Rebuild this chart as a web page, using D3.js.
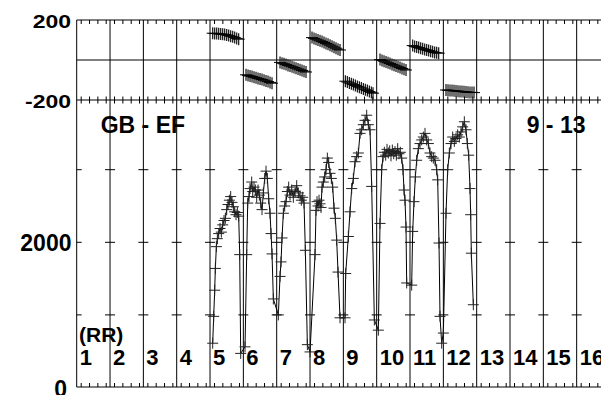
<!DOCTYPE html>
<html>
<head>
<meta charset="utf-8">
<script src="https://cdn.jsdelivr.net/npm/d3@7"></script>
<style>
    body { margin: 0; background: #fff; }
    svg text { font-family: "Liberation Sans", Arial, sans-serif; font-weight: bold; fill: #000; }
</style>
</head>
<body>
<svg id="chart"></svg>
<script>

// hour labels along the bottom panel
var hourLabels = ["1", "2", "3", "4", "5", "6", "7", "8", "9", "10", "11", "12", "13", "14", "15", "16"];
// amplitude tick crosses and axis labels
var ampTickValues = [1000, 2000, 3000];
var ampAxisLabels = [{v: 0, text: "0"}, {v: 2000, text: "2000"}];
var phaseAxisLabels = [{v: 200, text: "200"}, {v: -200, text: "-200"}];
var phaseErr = 30;

// amplitude, one list per scan (hours / amp)
var ampTimes = [
    [5.08, 5.11, 5.14, 5.16, 5.19, 5.22, 5.26, 5.30, 5.34, 5.38, 5.42, 5.46, 5.50, 5.54, 5.58, 5.62, 5.66, 5.70, 5.74, 5.78, 5.82, 5.86, 5.89, 5.92],
    [6.05, 6.10, 6.13, 6.17, 6.20, 6.25, 6.28, 6.32, 6.36, 6.40, 6.44, 6.48, 6.52, 6.56, 6.60, 6.64, 6.68, 6.72, 6.76, 6.80, 6.83, 6.86, 6.90],
    [7.05, 7.10, 7.13, 7.16, 7.20, 7.24, 7.28, 7.32, 7.36, 7.40, 7.45, 7.50, 7.55, 7.60, 7.65, 7.70, 7.74, 7.78, 7.82, 7.86, 7.92],
    [8.00, 8.15, 8.18, 8.21, 8.24, 8.27, 8.30, 8.33, 8.36, 8.40, 8.44, 8.48, 8.52, 8.56, 8.60, 8.64, 8.68, 8.72, 8.76, 8.80, 8.84, 8.90],
    [9.05, 9.07, 9.15, 9.20, 9.25, 9.30, 9.35, 9.40, 9.45, 9.50, 9.55, 9.60, 9.65, 9.70, 9.75, 9.80, 9.85, 9.93],
    [10.05, 10.10, 10.15, 10.19, 10.23, 10.27, 10.31, 10.35, 10.39, 10.43, 10.47, 10.51, 10.55, 10.59, 10.63, 10.67, 10.71, 10.75, 10.79, 10.82, 10.85, 10.88, 10.90],
    [11.05, 11.08, 11.12, 11.16, 11.20, 11.25, 11.30, 11.35, 11.40, 11.45, 11.50, 11.55, 11.60, 11.65, 11.70, 11.75, 11.80, 11.83, 11.87, 11.90, 11.95],
    [12.00, 12.08, 12.13, 12.18, 12.23, 12.28, 12.33, 12.38, 12.43, 12.48, 12.53, 12.58, 12.63, 12.68, 12.72, 12.76, 12.80, 12.82, 12.84, 12.90]
];
var ampValues = [
    [610, 980, 1340, 1640, 1940, 2050, 2120, 2190, 2140, 2240, 2300, 2330, 2450, 2520, 2580, 2630, 2550, 2490, 2420, 2380, 2410, 2360, 1830, 470],
    [560, 1830, 2540, 2630, 2740, 2830, 2700, 2760, 2720, 2620, 2720, 2650, 2540, 2450, 2680, 2880, 2980, 2880, 2600, 2400, 2120, 1840, 1220],
    [1000, 1530, 1730, 2060, 2400, 2500, 2560, 2700, 2760, 2650, 2720, 2620, 2700, 2780, 2680, 2640, 2580, 2620, 2540, 1890, 590],
    [490, 1830, 2440, 2560, 2500, 2580, 2530, 2480, 2760, 2830, 2900, 3000, 3160, 3100, 2950, 2880, 2760, 2470, 2330, 2030, 1590, 960],
    [960, 1570, 2080, 2420, 2740, 2880, 3110, 3180, 3230, 3500, 3550, 3620, 3680, 3750, 3620, 3550, 2770, 930],
    [790, 2260, 3000, 3180, 3240, 3200, 3280, 3230, 3260, 3190, 3270, 3220, 3250, 3200, 3290, 3220, 3240, 3160, 3000, 2720, 2580, 2210, 1440],
    [1410, 2150, 2560, 2900, 3130, 3290, 3360, 3410, 3450, 3500, 3410, 3360, 3230, 3180, 3160, 3130, 3000, 2860, 1990, 980, 610],
    [750, 2400, 3000, 3230, 3360, 3450, 3390, 3430, 3480, 3450, 3520, 3590, 3660, 3550, 3360, 3200, 2740, 2380, 1850, 1140]
];

// phase (deg), one list per scan
var phaseTimes = [
    [5.08, 5.14, 5.20, 5.26, 5.32, 5.38, 5.44, 5.50, 5.56, 5.62, 5.68, 5.74, 5.80, 5.86],
    [6.08, 6.14, 6.20, 6.26, 6.32, 6.38, 6.44, 6.50, 6.56, 6.62, 6.68, 6.74, 6.80, 6.86],
    [7.10, 7.16, 7.22, 7.28, 7.34, 7.40, 7.46, 7.52, 7.58, 7.64, 7.70, 7.76, 7.82, 7.88],
    [8.06, 8.12, 8.18, 8.24, 8.30, 8.36, 8.42, 8.48, 8.54, 8.60, 8.66, 8.72, 8.78, 8.84, 8.90],
    [9.06, 9.12, 9.18, 9.24, 9.30, 9.36, 9.42, 9.48, 9.54, 9.60, 9.66, 9.72, 9.78, 9.84, 9.89],
    [10.10, 10.16, 10.22, 10.28, 10.34, 10.40, 10.46, 10.52, 10.58, 10.64, 10.70, 10.76, 10.82, 10.88],
    [11.08, 11.14, 11.20, 11.26, 11.32, 11.38, 11.44, 11.50, 11.56, 11.62, 11.68, 11.74, 11.80, 11.86],
    [12.08, 12.14, 12.20, 12.26, 12.32, 12.38, 12.44, 12.50, 12.56, 12.62, 12.68, 12.74, 12.80, 12.86, 12.92]
];
var phaseValues = [
    [134, 132, 133, 131, 130, 129, 128, 125, 123, 119, 116, 113, 108, 104],
    [-74, -77, -80, -83, -86, -89, -92, -95, -98, -101, -105, -108, -112, -116],
    [-12, -16, -19, -23, -27, -30, -34, -38, -41, -45, -49, -52, -56, -60],
    [112, 108, 104, 100, 96, 92, 88, 83, 79, 74, 69, 64, 59, 54, 50],
    [-106, -110, -115, -119, -123, -127, -132, -136, -140, -145, -149, -153, -158, -162, -166],
    [2, -2, -6, -10, -14, -18, -22, -26, -30, -34, -38, -42, -46, -50],
    [72, 68, 65, 62, 59, 56, 53, 50, 47, 44, 41, 38, 36, 34],
    [-150, -151, -152, -153, -154, -155, -156, -157, -158, -159, -160, -161, -162, -162, -163]
];


AmpPhasePlot = function(_parentElement) {
    this.parentElement = _parentElement;
    this.width = 601,
        this.height = 395;
    this.initVis();
}

AmpPhasePlot.prototype.initVis = function() {
    var vis = this;

    vis.svg = d3.select("#" + vis.parentElement)
        .attr("width", vis.width)
        .attr("height", vis.height);

    // panel edges
    vis.top = 20;
    vis.mid = 100;
    vis.bottom = 387;

    // time axis runs past the right edge of the picture
    vis.x = d3.scaleLinear().domain([1, 17]).range([76.7, 610]);
    vis.yPhase = d3.scaleLinear().domain([-200, 200]).range([vis.mid, vis.top]);
    vis.yAmp = d3.scaleLinear().domain([0, 3960]).range([387.5, vis.mid]);

    vis.wrangleData();
}

AmpPhasePlot.prototype.wrangleData = function() {
    var vis = this;

    vis.ampPoints = [];
    ampTimes.forEach(function(ts, i) {
        ts.forEach(function(t, j) {
            vis.ampPoints.push({t: t, v: ampValues[i][j]});
        });
    });

    vis.phasePoints = [];
    phaseTimes.forEach(function(ts, i) {
        ts.forEach(function(t, j) {
            vis.phasePoints.push({t: t, v: phaseValues[i][j]});
        });
    });

    vis.updateVis();
}

AmpPhasePlot.prototype.updateVis = function() {
    var vis = this;
    var x = vis.x, yP = vis.yPhase, yA = vis.yAmp;
    var hours = d3.range(1, 18);

    // horizontal frame lines + phase zero line
    vis.svg.append("g").selectAll("line")
        .data([vis.top, yP(0), vis.mid, vis.bottom])
        .enter().append("line")
        .attr("x1", x(1)).attr("x2", x(17))
        .attr("y1", function(d) { return d; })
        .attr("y2", function(d) { return d; })
        .attr("stroke", "#000");

    // hour grid lines through both panels
    vis.svg.append("g").selectAll("line")
        .data(hours)
        .enter().append("line")
        .attr("x1", function(d) { return x(d); })
        .attr("x2", function(d) { return x(d); })
        .attr("y1", vis.top).attr("y2", vis.bottom)
        .attr("stroke", "#000");

    // 15 min ticks, offset from the hour lines
    var minor = d3.range(1.12, 17, 0.25);
    var noDomain = function(g) { g.select(".domain").remove(); };
    vis.svg.append("g").attr("transform", "translate(0," + vis.top + ")")
        .call(d3.axisBottom(x).tickValues(minor).tickSize(4).tickFormat(""))
        .call(noDomain);
    vis.svg.append("g").attr("transform", "translate(0," + vis.mid + ")")
        .call(d3.axisBottom(x).tickValues(minor).tickSize(3.5).tickFormat(""))
        .call(noDomain);
    vis.svg.append("g").attr("transform", "translate(0," + vis.mid + ")")
        .call(d3.axisTop(x).tickValues(minor).tickSize(3.5).tickFormat(""))
        .call(noDomain);
    vis.svg.append("g").attr("transform", "translate(0," + vis.bottom + ")")
        .call(d3.axisTop(x).tickValues(minor).tickSize(4).tickFormat(""))
        .call(noDomain);

    // amplitude crosses on every hour line
    var crosses = [];
    hours.forEach(function(h) {
        ampTickValues.forEach(function(v) { crosses.push({h: h, v: v}); });
    });
    vis.svg.append("g").selectAll("line")
        .data(crosses)
        .enter().append("line")
        .attr("x1", function(d) { return Math.max(x(d.h) - 5, x(1)); })
        .attr("x2", function(d) { return x(d.h) + 5; })
        .attr("y1", function(d) { return yA(d.v); })
        .attr("y2", function(d) { return yA(d.v); })
        .attr("stroke", "#000");

    // phase: error bars + horizontal marks
    var ph = vis.svg.append("g");
    ph.selectAll(".eb")
        .data(vis.phasePoints)
        .enter().append("line")
        .attr("class", "eb")
        .attr("x1", function(d) { return x(d.t); })
        .attr("x2", function(d) { return x(d.t); })
        .attr("y1", function(d) { return yP(d.v - phaseErr); })
        .attr("y2", function(d) { return yP(d.v + phaseErr); })
        .attr("stroke", "#111")
        .attr("stroke-width", 1.2);
    ph.selectAll(".hb")
        .data(vis.phasePoints)
        .enter().append("line")
        .attr("class", "hb")
        .attr("x1", function(d) { return x(d.t) - 6; })
        .attr("x2", function(d) { return x(d.t) + 6; })
        .attr("y1", function(d) { return yP(d.v); })
        .attr("y2", function(d) { return yP(d.v); })
        .attr("stroke", "#000");

    // amplitude: connecting line then + markers
    var line = d3.line()
        .x(function(d) { return x(d.t); })
        .y(function(d) { return yA(d.v); });
    vis.svg.append("path")
        .datum(vis.ampPoints)
        .attr("d", line)
        .attr("fill", "none")
        .attr("stroke", "#000");

    var am = vis.svg.append("g").attr("stroke", "#222");
    am.selectAll(".mh")
        .data(vis.ampPoints)
        .enter().append("line")
        .attr("x1", function(d) { return x(d.t) - 5.5; })
        .attr("x2", function(d) { return x(d.t) + 5.5; })
        .attr("y1", function(d) { return yA(d.v); })
        .attr("y2", function(d) { return yA(d.v); });
    am.selectAll(".mv")
        .data(vis.ampPoints)
        .enter().append("line")
        .attr("x1", function(d) { return x(d.t); })
        .attr("x2", function(d) { return x(d.t); })
        .attr("y1", function(d) { return yA(d.v) - 5.5; })
        .attr("y2", function(d) { return yA(d.v) + 5.5; });

    // axis labels
    vis.svg.append("g").selectAll("text")
        .data(phaseAxisLabels)
        .enter().append("text")
        .attr("transform", function(d) {
            return "translate(71," + (yP(d.v) + 8.3) + ") scale(1,0.81)";
        })
        .attr("text-anchor", "end")
        .style("font-size", "23px")
        .text(function(d) { return d.text; });

    vis.svg.append("g").selectAll("text")
        .data(ampAxisLabels)
        .enter().append("text")
        .attr("x", function(d) { return d.v == 0 ? 67 : 71.5; })
        .attr("y", function(d) { return yA(d.v) + 9; })
        .attr("text-anchor", "end")
        .style("font-size", "23px")
        .text(function(d) { return d.text; });

    vis.svg.append("g").selectAll("text")
        .data(hourLabels)
        .enter().append("text")
        .attr("x", function(d, i) { return x(i + 1) + 3; })
        .attr("y", 365)
        .style("font-size", "22px")
        .text(function(d) { return d; });

    vis.svg.append("text").attr("x", 79).attr("y", 342)
        .style("font-size", "21px").text("(RR)");
    vis.svg.append("text").attr("x", 100.7).attr("y", 132.7)
        .style("font-size", "23px").text("GB - EF");
    vis.svg.append("text").attr("x", 526.7).attr("y", 132.7)
        .style("font-size", "23px").text("9 - 13");
}

var plot = new AmpPhasePlot("chart");
</script>
</body>
</html>
